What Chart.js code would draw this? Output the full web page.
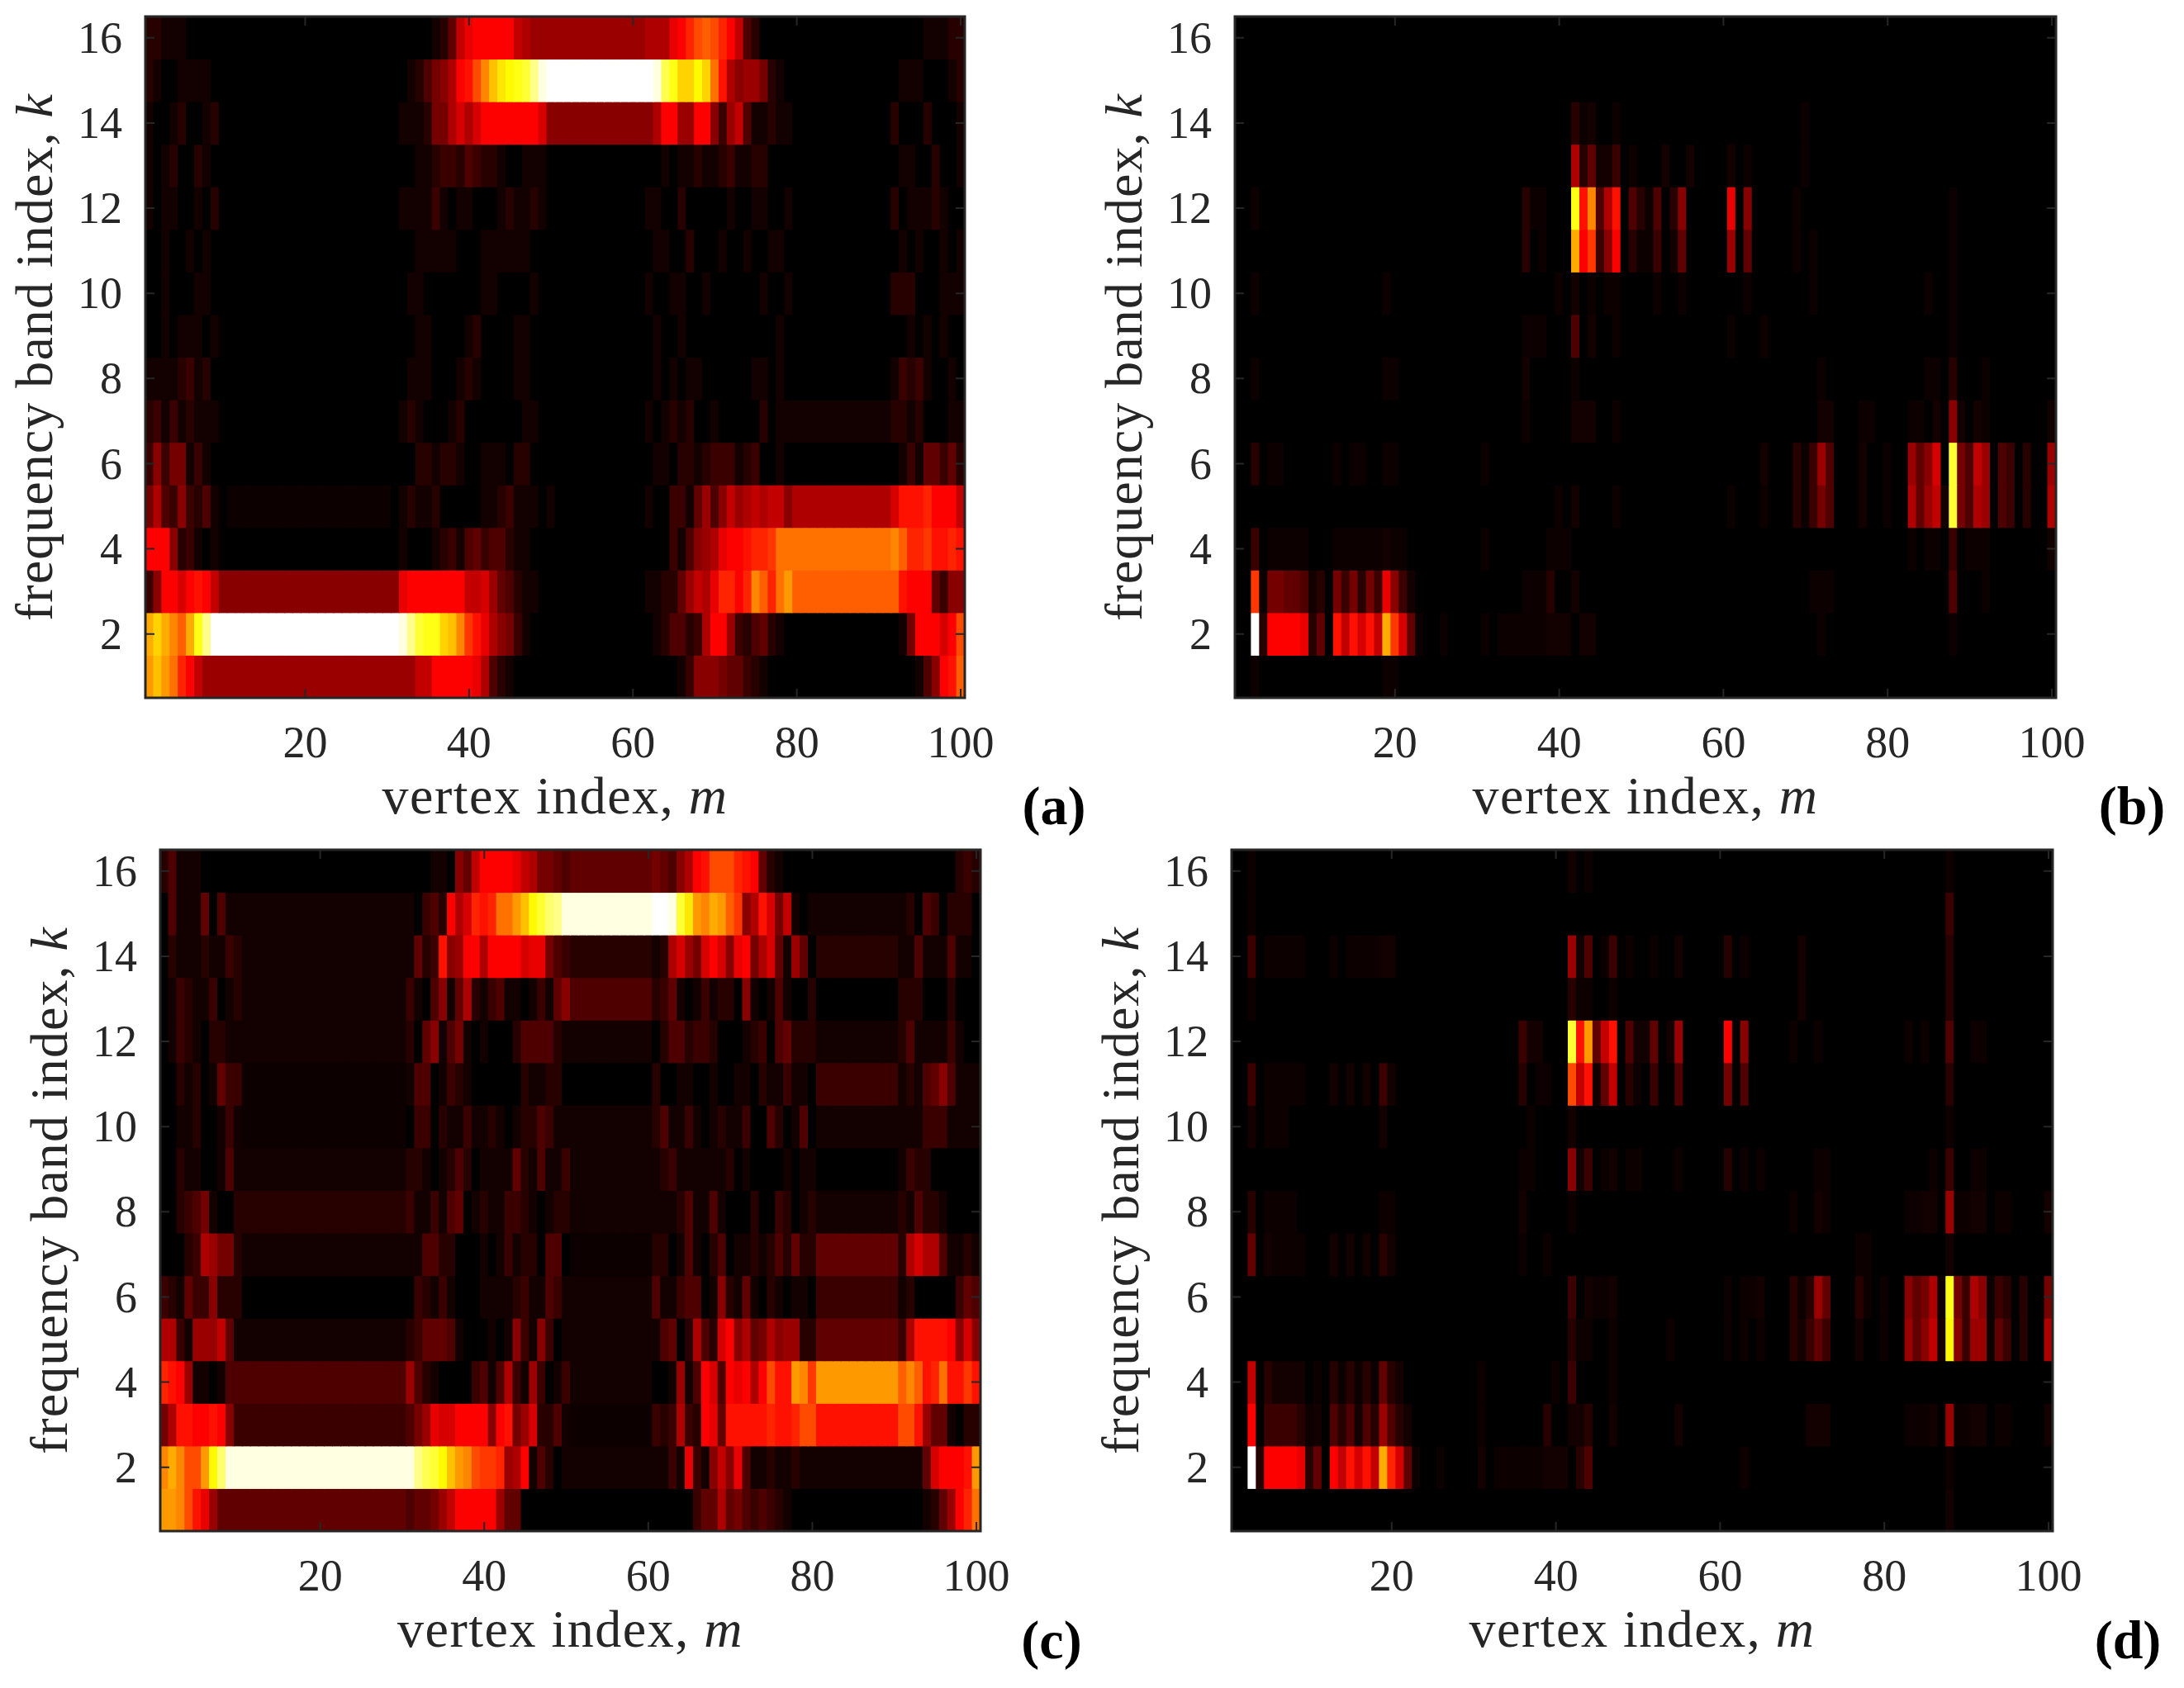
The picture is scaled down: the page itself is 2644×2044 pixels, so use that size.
<!DOCTYPE html>
<html>
<head>
<meta charset="utf-8">
<style>
  html, body { margin: 0; background: #fff; }
  canvas { position: absolute; }
</style>
<script src="https://cdn.jsdelivr.net/npm/chart.js@4"></script>
</head>
<body>
<script>
const xTicks = [20, 40, 60, 80, 100];
const yTicks = [2, 4, 6, 8, 10, 12, 14, 16];
const xLabel = 'vertex index, ';
const yLabel = 'frequency band index, ';

// rows run k = 16 down to k = 1, ten vertices per block, one base-36 digit per cell (0 = black, z = white, . = barely above black)
const panelA = [
  '2211100000 0000000000 0000000000 00000125ac ddddda9888 8888888888 8999cdfhih fda4200000 0000000000 0000011122',
  '2100111100 0000000000 0000000000 00124679de hknpqrsvyz zzzzzzzzzz zzytrooqoj e978862100 0000000000 0011100012',
  '1001200120 0000000000 0000000000 01112669b9 bdddddddb7 7777777777 779dd88dd7 38a4112110 0000000000 0200020001',
  '1012002100 0000000000 0000000000 0001123324 3221001110 0000000000 0001011211 2311220000 0000000000 0011002001',
  '1011001020 0000000000 0000000000 0111131011 0001211210 0000000000 0110020000 0100110010 0000000000 0201112100',
  '0010010100 0000000000 0000000000 0001111100 0111111000 0000000000 0011002000 1001001100 0000000000 0010100101',
  '0010001100 0000000000 0000000000 0011000000 0110000100 0000000000 0100110010 0000010010 0000000000 0222000111',
  '0010111010 0000000000 0000000000 0001100001 2000011000 0000000000 0010010000 0000000100 0000000000 0001010100',
  '1111231200 0000000000 0000000000 0011100012 1000011000 0000000000 0010101100 0000110100 0000000000 0132310010',
  '2313121110 0000000000 0000000000 0121000120 0000001100 0000000000 0101212001 0000020111 1111111111 1221200011',
  '3736613100 0000000000 0000000000 0002212210 0111022000 0000000000 0011022123 3312300100 0000000000 0013155352',
  '6943732410 .......... .......... 0121120000 0112311101 0000000000 0100331584 7a89a9aa79 9999999999 9beeefddda',
  'ddd7231010 0000000000 0000000000 0100012314 5344211000 0000000000 0000314789 cddeffgjjj jjjjjjjjjj jkiffgeefe',
  '37ddbdeda7 7777777777 7777777777 7cddddddda ab85421100 0000000000 0112258a9c ffdfkifjli iiiiiiiiii iieddd5377',
  'momkimrvzz zzzzzzzzzz zzzzzzzzzz zyvsrronkg ec97631000 0000000000 001244239d d832452100 0000000000 0016dddbdh',
  'lnljfda888 8888888888 8888888888 888aaddddd c942100000 0000000000 0000013777 6553210000 0000000000 0000147dei'
];
const panelB = [
  '0000000000 0000000000 0000000000 0000000000 0000000000 0000000000 0000000000 0000000000 0000000000 0000000000',
  '0000000000 0000000000 0000000000 0000000000 0000000000 0000000000 0000000000 0000000000 0000000000 0000000000',
  '0000000000 0000000000 0000000000 0000000000 02.100.000 0000000000 000000000. 0000000000 0000000000 0000000000',
  '0000000000 0000000000 0000000000 0000000000 09251130.0 0010010000 10.000000. 0000000000 0000000000 0000000000',
  '00.0000000 0000000000 0000000000 000002..00 0rek49e042 .402700000 c0700000.0 0000000000 0000000.00 0000000000',
  '0000000000 0000000000 0000000000 0000020.00 0mdg37d02. .301500000 80500000.0 .000000000 0000000.00 0000000000',
  '00.0000000 00000000.0 0000000000 000000000. 010.0..000 0.00.00000 00.0000000 .000000000 0000.00.00 0000000000',
  '0000000000 0000000000 0000000000 00000...00 040100.000 0000000000 .000.00000 0000000000 0000000.00 0000000000',
  '00.0000000 00000000.. 0000000000 0000010000 0.00000000 0000000000 0000000000 0.00000000 0000..0200 0.00000000',
  '0000000000 0000000000 0000000000 00000.0000 011100.000 0000000000 0000000000 011000..00 00..010710 1.00000001',
  '0020..0000 00.0..00.. 0000000000 .000000000 0000000000 0000000000 000010002. 384000100. 00857b0s64 a804302008',
  '0000000000 0000000000 0000000000 000000000. 010000.000 0000000000 .000.0002. 364000100. 00958a1s64 9804302009',
  '0030.....0 00......1. .000000000 .0000000.. .000000000 0000000000 0000000000 0000000000 00.0..030. ..00000001',
  '00g.665541 20636263c7 3100000000 00000...20 0100000000 0000000000 0000000000 ...0000000 0000000400 0.00000000',
  '00z2ddddc2 50eaebeamg b5.00.0000 .0......11 1011000000 0000000000 0000000000 0.00000000 0000000.00 0000000000',
  '00.0000000 00000000.. 0000000000 0000000000 0000000000 0000000000 0000000000 0000000000 0000000000 0000000000'
];
const panelC = [
  '2411100000 0000000000 0000000000 00011075ad dddca96654 5555555555 65479dehhh fed5210000 0000000000 0000000232',
  '0411150411 1111111111 1111111111 10342d9bfe fjjlnqsuvy yyyyyyyyyy zzysplkmli g79eb6a101 1111111111 1204302220',
  '0211121132 1111111111 1111111111 1523e78dd9 ddddbcc643 2222222222 129b86bdb7 cd69b51850 2222222222 1141114110',
  '0132113012 1111111111 1111111111 3104715921 3411013157 4444444444 2351013122 0710141002 0000000000 2220002000',
  '0132102211 1111111111 1111111111 2057146101 0002444421 1111111111 0244233200 0123045222 1111111111 2411113100',
  '0021201533 .......... .......... 1440132100 0000211220 0000000000 2001100100 1102113110 3333333333 1214574111',
  '0011200131 .......... .......... 0330211311 2101224311 1111111111 2411310121 1300420140 1111111111 1113331111',
  '0021100141 1111111111 1111111111 2210124201 1115214113 1111111111 1231111112 0100001011 0000000000 1322000000',
  '0023461002 2222222222 2222222222 3113145012 1133210122 1111111111 1112411410 0020032012 1111111111 2142210000',
  '0002398662 1111111111 1111111111 1144220001 0131220440 .......... 2201410240 1121242522 5555555555 29b9941121',
  '3215337222 0000000000 0000000000 0321310001 1112311431 1111111111 4113440172 1510210110 3333333333 1200000354',
  '9931888a51 1111111111 1111111111 2355541000 1017317301 1111111111 14502942bd 7956978822 5555555555 39eeeed7b7',
  'fed8110144 4444444444 4444444444 8421000034 1493183013 1111111111 001814db4d cd9dheelkg llllllllll ikiefjeege',
  '69eedded73 3333333333 3333333333 468cbbdddd 7de68b2241 .......... 323932dc5e eeeefeefhh eeeeeeeeee hhe8551022',
  'kmkhhlquyy yyyyyyyyyy yyyyyyyyyy yvtsqnlkhg gf89d14201 1111111111 1131c317a7 c411211211 1111111111 1115bdddel',
  'llkhec8555 5555555555 5555555555 45568adddd d855000000 0000000000 0000035595 6434321000 0000000000 0001258dfj'
];
const panelD = [
  '00.0000000 0000000000 0000000000 0000000000 010.000000 0000000000 0000000000 0000000000 0000000.00 0000000000',
  '00.0000000 0000000000 0000000000 0000000000 0000000000 0000000000 0000000000 0000000000 0000000300 0000000000',
  '0030.....0 00.0....11 0000000000 0000000000 08140.30.0 0.00100000 20.0000001 0000000000 0000000200 0000000000',
  '00.0000000 0000000000 0000000000 0000000000 02..00.000 0000000000 0000000001 0000000000 0000000200 0000000000',
  '0000000000 0000000000 0000000000 0000031100 0sel5ae041 1501800000 d0700000.0 0.00000000 00.0.00400 ..00000000',
  '0030.....0 0010101031 0000000000 0000020..0 0hae15a02. 0300400000 6040000000 0000000000 0000000200 0000000000',
  '0010...000 0000000010 0000000000 000000.000 0100000000 0000000000 0000000000 0000000000 0000000.00 0000000000',
  '0000000000 0000000000 0000000000 00000..000 07130.10.. 0000.00000 20.0.00000 0..0000000 00000.0300 ..00000000',
  '0020....00 00000000.. 0000000000 0000010000 0.00000000 0000000000 00000000.0 01.0000000 00..1108.. 110..00001',
  '00501....0 0010101021 0000000000 00000.00.0 0000000000 0000000000 0000000000 000000..00 0000000100 0000000000',
  '0000000000 0000000000 0000000000 0000000000 0301..1000 0000000000 .0..10002. 2850002.0. 007569.r63 97.3202006',
  '0000000000 0000000000 0000000000 0000000000 02..00.000 000.000000 .0.0.00021 353000100. 00857a1q73 88.5302009',
  '00a0211110 .02.2.2.52 1000000000 .00000000. 030000.000 0000000000 0000000000 0000000000 0000000000 0000000000',
  '00d033332. 1042414284 2100000000 .000000020 0112001000 0000100000 0000000000 1110000000 00...108.. 110..00001',
  '00z2ddddc2 50daebeamf b5.00.0000 10......11 1024000000 0000000000 00.0000000 0000000000 0000000.00 0000000000',
  '0000000000 0000000000 0000000000 0000000000 0000000000 0000000000 0000000000 0000000000 0000000100 0000000000'
];

const ink = '#262626';
const serif = '"Liberation Serif", serif';

// MATLAB hot colormap, v in 0..1
const hot = v => {
  const c = t => Math.round(Math.min(Math.max(t, 0), 1) * 255);
  return `rgb(${c(v / 0.375)},${c((v - 0.375) / 0.375)},${c((v - 0.75) / 0.25)})`;
};

const decodeRow = row => row.replace(/ /g, '').split('').map(ch => (ch === '.' ? 0.6 : parseInt(ch, 36)) / 35);
const vertices = decodeRow(panelA[0]).map((_, i) => String(i + 1));

// draws the box, the inward ticks, the axis titles and the panel letter
const frame = {
  id: 'frame',
  afterDraw(chart, args, opts) {
    const { ctx, chartArea: a, scales } = chart;
    ctx.save();
    ctx.strokeStyle = ink;
    ctx.lineWidth = 2;
    xTicks.forEach(t => {
      const x = scales.x.getPixelForValue(t - 1);
      ctx.beginPath();
      ctx.moveTo(x, a.bottom); ctx.lineTo(x, a.bottom - 11);
      ctx.moveTo(x, a.top); ctx.lineTo(x, a.top + 11);
      ctx.stroke();
    });
    yTicks.forEach(t => {
      const y = scales.y.getPixelForValue(t);
      ctx.beginPath();
      ctx.moveTo(a.left, y); ctx.lineTo(a.left + 11, y);
      ctx.moveTo(a.right, y); ctx.lineTo(a.right - 11, y);
      ctx.stroke();
    });
    ctx.lineWidth = 3;
    ctx.strokeRect(a.left, a.top, a.right - a.left, a.bottom - a.top);

    const label = (text, sym, x, y, spacing) => {
      ctx.letterSpacing = spacing + 'px';
      ctx.font = `64px ${serif}`;
      const w1 = ctx.measureText(text).width;
      ctx.font = `italic 64px ${serif}`;
      const w2 = ctx.measureText(sym).width;
      ctx.textAlign = 'left';
      ctx.textBaseline = 'alphabetic';
      ctx.fillStyle = ink;
      ctx.font = `64px ${serif}`;
      ctx.fillText(text, x - (w1 + w2) / 2, y);
      ctx.font = `italic 64px ${serif}`;
      ctx.fillText(sym, x - (w1 + w2) / 2 + w1, y);
      ctx.letterSpacing = '0px';
    };
    label(xLabel, 'm', (a.left + a.right) / 2, a.bottom + 140, 1.5);
    ctx.save();
    ctx.translate(a.left - 113, (a.top + a.bottom) / 2);
    ctx.rotate(-Math.PI / 2);
    label(yLabel, 'k', 0, 0, 1.05);
    ctx.restore();

    ctx.font = `bold 66px ${serif}`;
    ctx.fillStyle = '#000';
    ctx.textAlign = 'center';
    ctx.textBaseline = 'alphabetic';
    ctx.fillText(opts.letter, opts.letterX, opts.letterY);
    ctx.restore();
  }
};

const makePanel = (rows, letter, box, plot, letterPos) => {
  const canvas = document.createElement('canvas');
  canvas.width = box.w;
  canvas.height = box.h;
  canvas.style.left = box.x + 'px';
  canvas.style.top = box.y + 'px';
  document.body.appendChild(canvas);

  const datasets = rows.map((row, i) => {
    const k = 16 - i;
    return {
      label: 'k=' + k,
      data: vertices.map(() => [k - 0.5, k + 0.5]),
      backgroundColor: decodeRow(row).map(hot),
      borderWidth: 0,
      barPercentage: 1,
      categoryPercentage: 1,
      inflateAmount: 0.5,
      grouped: false
    };
  });

  new Chart(canvas.getContext('2d'), {
    type: 'bar',
    data: { labels: vertices, datasets },
    plugins: [frame],
    options: {
      responsive: false,
      animation: false,
      devicePixelRatio: 1,
      layout: {
        padding: {
          left: 0,
          top: plot.t - box.y,
          right: box.x + box.w - plot.r,
          bottom: 0
        }
      },
      plugins: {
        legend: { display: false },
        tooltip: { enabled: false },
        frame: { letter, letterX: letterPos[0] - box.x, letterY: letterPos[1] - box.y }
      },
      scales: {
        x: {
          type: 'category',
          offset: true,
          grid: { display: false, offset: false },
          border: { display: false },
          afterBuildTicks: s => { s.ticks = s.ticks.filter(t => xTicks.includes(t.value + 1)); },
          afterFit: s => {
            s.height = box.y + box.h - plot.b;
            s.paddingLeft = 0;
            s.paddingRight = 0;
          },
          ticks: {
            autoSkip: false,
            maxRotation: 0,
            padding: 17,
            color: ink,
            font: { family: serif, size: 54 }
          }
        },
        y: {
          type: 'linear',
          min: 0.5,
          max: 16.5,
          grid: { display: false },
          border: { display: false },
          afterBuildTicks: s => { s.ticks = yTicks.map(value => ({ value })); },
          afterFit: s => {
            s.width = plot.l - box.x;
            s.paddingTop = 0;
            s.paddingBottom = 0;
          },
          ticks: {
            padding: 20,
            labelOffset: 4,
            color: ink,
            font: { family: serif, size: 54 }
          }
        }
      }
    }
  });
};

makePanel(panelA, '(a)', { x: 0, y: 0, w: 1322, h: 1022 }, { l: 176, t: 20, r: 1168, b: 845 }, [1276, 998]);
makePanel(panelB, '(b)', { x: 1322, y: 0, w: 1322, h: 1022 }, { l: 1495, t: 20, r: 2489, b: 845 }, [2581, 998]);
makePanel(panelC, '(c)', { x: 0, y: 1022, w: 1322, h: 1022 }, { l: 194, t: 1029, r: 1187, b: 1854 }, [1273, 2008]);
makePanel(panelD, '(d)', { x: 1322, y: 1022, w: 1322, h: 1022 }, { l: 1491, t: 1029, r: 2485, b: 1854 }, [2576, 2008]);
</script>
</body>
</html>
